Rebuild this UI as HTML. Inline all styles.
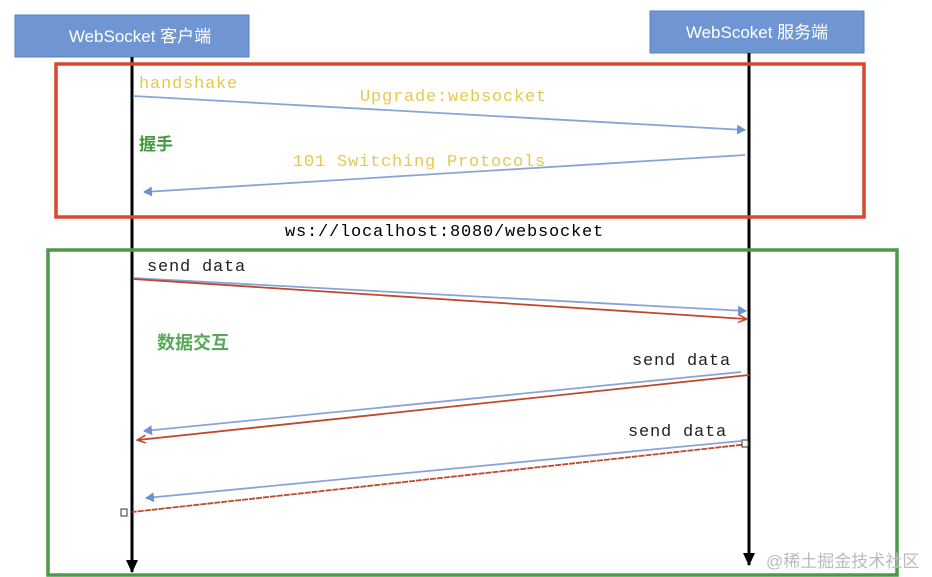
<!DOCTYPE html>
<html><head><meta charset="utf-8"><style>
html,body{margin:0;padding:0;background:#fff;width:932px;height:577px;overflow:hidden}
svg{display:block}
.m{font-family:"Liberation Mono",monospace;font-size:17px;letter-spacing:0.8px}
.s{font-family:"Liberation Sans","Noto Sans CJK SC",sans-serif}
</style></head><body>
<svg width="932" height="577" viewBox="0 0 932 577">
<defs>
<marker id="bh" markerWidth="10" markerHeight="10" refX="8" refY="5" orient="auto" markerUnits="userSpaceOnUse"><path d="M0,0 L9,5 L0,10 z" fill="#6f93d0"/></marker>
<marker id="rh" markerWidth="10" markerHeight="10" refX="8" refY="4" orient="auto" markerUnits="userSpaceOnUse"><path d="M0,0 L9,4 L0,8" fill="none" stroke="#c0482c" stroke-width="1.5"/></marker>
<marker id="kh" markerWidth="14" markerHeight="14" refX="7" refY="12" orient="0" markerUnits="userSpaceOnUse"><path d="M1,0 L7,13 L13,0 z" fill="#000"/></marker>
</defs>
<rect x="15" y="15" width="234" height="42" fill="#6f96d2" stroke="#5a80bf"/>
<text x="140" y="42" text-anchor="middle" class="s" font-size="17" fill="#fff">WebSocket 客户端</text>
<rect x="650" y="11" width="214" height="42" fill="#6f96d2" stroke="#5a80bf"/>
<text x="757" y="38" text-anchor="middle" class="s" font-size="17" fill="#fff">WebScoket 服务端</text>
<line x1="132" y1="57" x2="132" y2="572" stroke="#000" stroke-width="3" marker-end="url(#kh)"/>
<line x1="749" y1="53" x2="749" y2="565" stroke="#000" stroke-width="3" marker-end="url(#kh)"/>
<rect x="56" y="64" width="808" height="153" fill="none" stroke="#d9482e" stroke-width="3.5"/>
<rect x="48" y="250" width="849" height="325" fill="none" stroke="#4a9a47" stroke-width="3.5"/>
<text x="139" y="88" class="m" fill="#e8c84a">handshake</text>
<text x="360" y="101" class="m" fill="#e8c84a">Upgrade:websocket</text>
<text x="293" y="166" class="m" fill="#e8c84a">101 Switching Protocols</text>
<text x="139" y="150" class="s" font-size="17" font-weight="bold" fill="#3f9a3a">握手</text>
<line x1="133" y1="96" x2="745" y2="130" stroke="#8aa3d6" stroke-width="1.8" marker-end="url(#bh)"/>
<line x1="745" y1="155" x2="144" y2="192" stroke="#8aa3d6" stroke-width="1.8" marker-end="url(#bh)"/>
<text x="285" y="236" class="m" fill="#000">ws://localhost:8080/websocket</text>
<text x="147" y="271" class="m" fill="#222">send data</text>
<line x1="133" y1="278" x2="746" y2="311" stroke="#8aa3d6" stroke-width="1.8" marker-end="url(#bh)"/>
<line x1="133" y1="279" x2="746" y2="319" stroke="#c0482c" stroke-width="1.8" marker-end="url(#rh)"/>
<text x="157" y="349" class="s" font-size="18" font-weight="bold" fill="#5aa65a">数据交互</text>
<text x="632" y="365" class="m" fill="#222">send data</text>
<line x1="741" y1="372" x2="144" y2="431" stroke="#8aa3d6" stroke-width="1.8" marker-end="url(#bh)"/>
<line x1="749" y1="375" x2="138" y2="440" stroke="#c0482c" stroke-width="1.8" marker-end="url(#rh)"/>
<text x="628" y="436" class="m" fill="#222">send data</text>
<line x1="741" y1="441" x2="146" y2="498" stroke="#8aa3d6" stroke-width="1.8" marker-end="url(#bh)"/>
<line x1="749" y1="444" x2="132" y2="512" stroke="#c0482c" stroke-width="1.8" stroke-dasharray="6 1"/>
<rect x="742" y="440" width="6" height="7" fill="#fff" stroke="#333"/>
<rect x="121" y="509" width="6" height="7" fill="#fff" stroke="#333"/>
<text x="766" y="567" class="s" font-size="17" fill="#bbb">@稀土掘金技术社区</text>
</svg>
</body></html>
